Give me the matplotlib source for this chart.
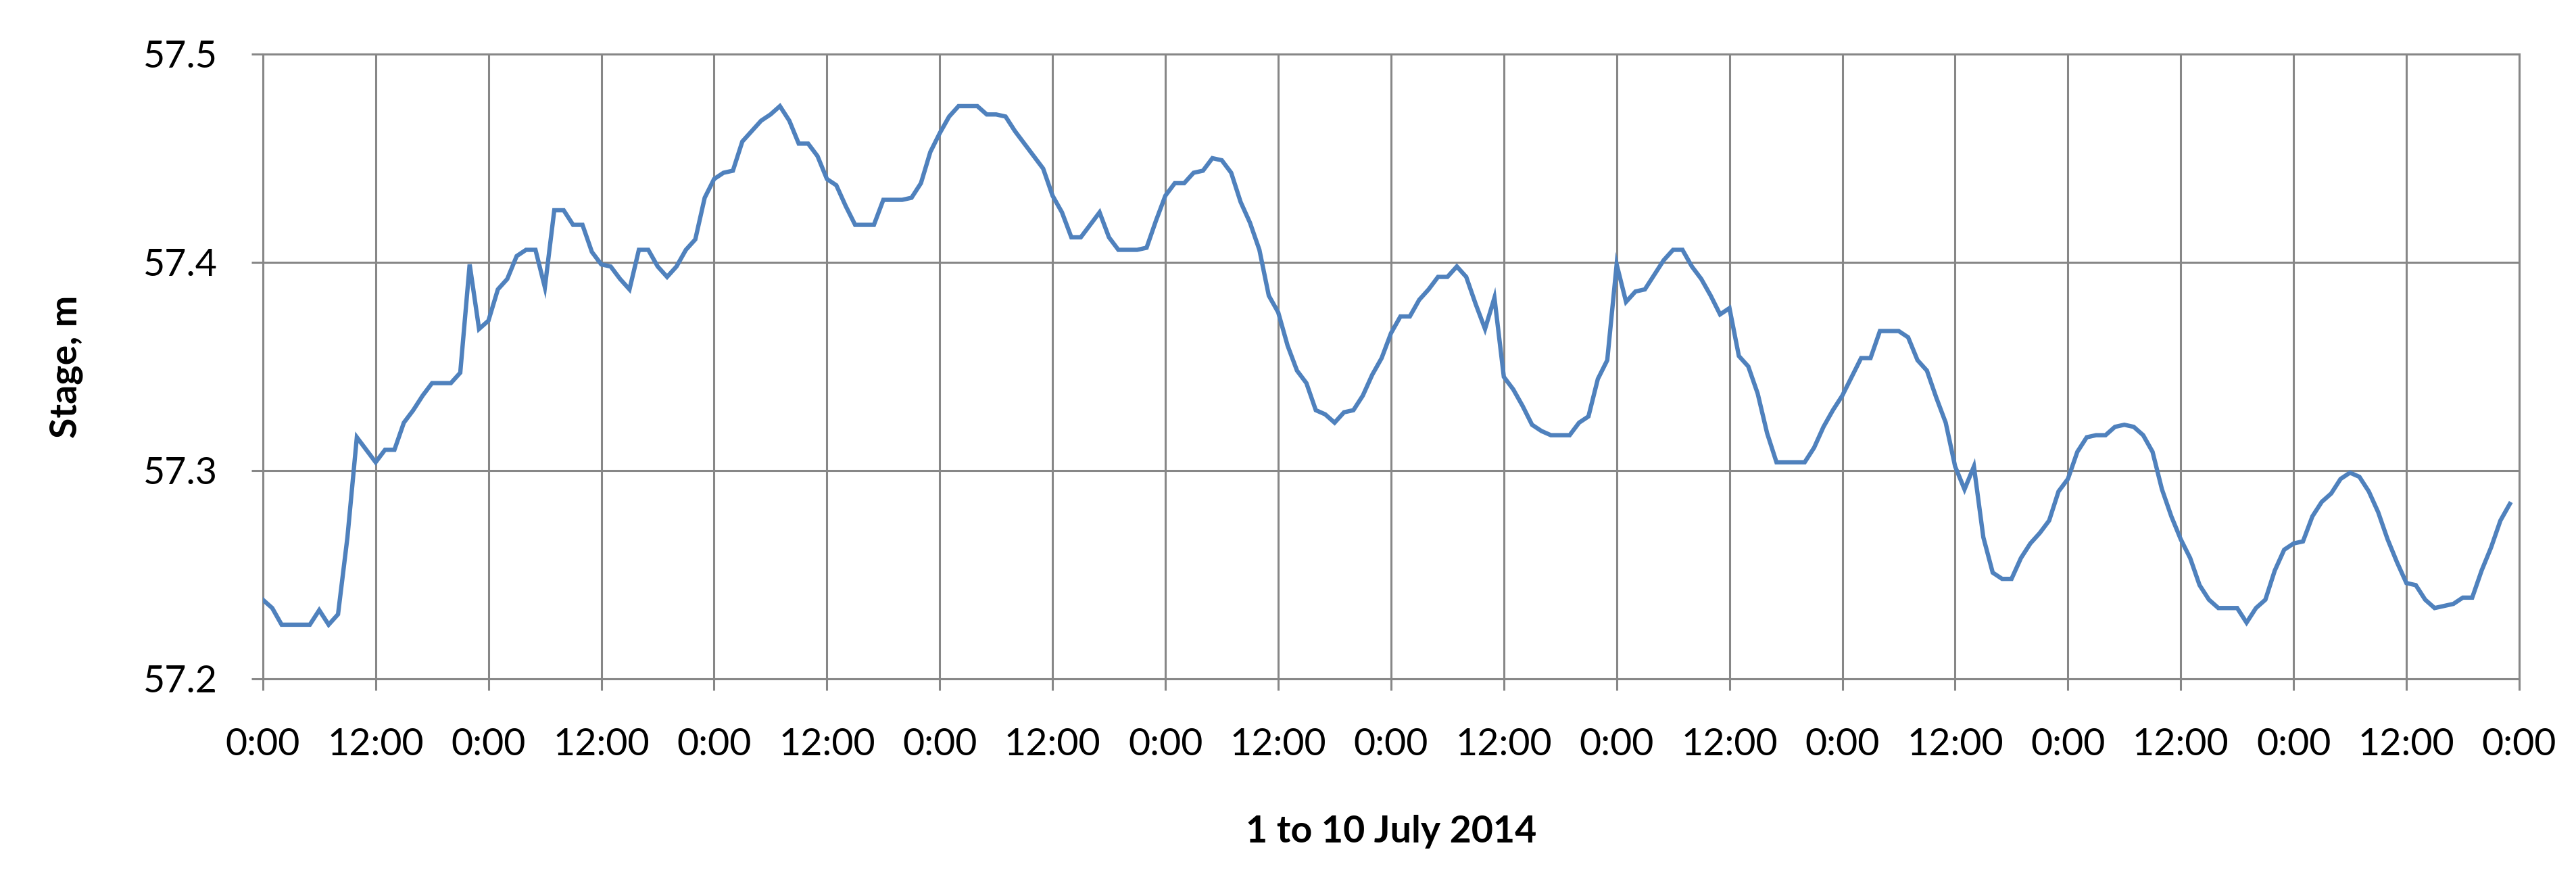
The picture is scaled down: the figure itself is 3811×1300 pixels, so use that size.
import matplotlib
matplotlib.use("Agg")
import matplotlib.pyplot as plt
import numpy as np

# ---- data: hourly stage readings, 1 to 10 July 2014 ----
day1 = [57.238, 57.234, 57.226, 57.226, 57.226, 57.226, 57.233, 57.226, 57.231, 57.268, 57.316, 57.310,
        57.304, 57.310, 57.310, 57.323, 57.329, 57.336, 57.342, 57.342, 57.342, 57.347, 57.399, 57.368]
day2 = [57.372, 57.387, 57.392, 57.403, 57.406, 57.406, 57.388, 57.425, 57.425, 57.418, 57.418, 57.405,
        57.399, 57.398, 57.392, 57.387, 57.406, 57.406, 57.398, 57.393, 57.398, 57.406, 57.411, 57.431]
day3 = [57.440, 57.443, 57.444, 57.458, 57.463, 57.468, 57.471, 57.475, 57.468, 57.457, 57.457, 57.451,
        57.440, 57.437, 57.427, 57.418, 57.418, 57.418, 57.430, 57.430, 57.430, 57.431, 57.438, 57.453]
day4 = [57.462, 57.470, 57.475, 57.475, 57.475, 57.471, 57.471, 57.470, 57.463, 57.457, 57.451, 57.445,
        57.432, 57.424, 57.412, 57.412, 57.418, 57.424, 57.412, 57.406, 57.406, 57.406, 57.407, 57.420]
day5 = [57.432, 57.438, 57.438, 57.443, 57.444, 57.450, 57.449, 57.443, 57.429, 57.419, 57.406, 57.384,
        57.376, 57.360, 57.348, 57.342, 57.329, 57.327, 57.323, 57.328, 57.329, 57.336, 57.346, 57.354]
day6 = [57.366, 57.374, 57.374, 57.382, 57.387, 57.393, 57.393, 57.398, 57.393, 57.380, 57.368, 57.383,
        57.345, 57.339, 57.331, 57.322, 57.319, 57.317, 57.317, 57.317, 57.323, 57.326, 57.344, 57.353]
day7 = [57.399, 57.381, 57.386, 57.387, 57.394, 57.401, 57.406, 57.406, 57.398, 57.392, 57.384, 57.375,
        57.378, 57.355, 57.350, 57.337, 57.318, 57.304, 57.304, 57.304, 57.304, 57.311, 57.321, 57.329]
day8 = [57.336, 57.345, 57.354, 57.354, 57.367, 57.367, 57.367, 57.364, 57.353, 57.348, 57.335, 57.323,
        57.302, 57.291, 57.302, 57.268, 57.251, 57.248, 57.248, 57.258, 57.265, 57.270, 57.276, 57.290]
day9 = [57.296, 57.309, 57.316, 57.317, 57.317, 57.321, 57.322, 57.321, 57.317, 57.309, 57.291, 57.278,
        57.267, 57.258, 57.245, 57.238, 57.234, 57.234, 57.234, 57.227, 57.234, 57.238, 57.252, 57.262]
day10 = [57.265, 57.266, 57.278, 57.285, 57.289, 57.296, 57.299, 57.297, 57.290, 57.280, 57.267, 57.256,
         57.246, 57.245, 57.238, 57.234, 57.235, 57.236, 57.239, 57.239, 57.252, 57.263, 57.276, 57.284]

stage = day1 + day2 + day3 + day4 + day5 + day6 + day7 + day8 + day9 + day10
hours = list(range(len(stage)))

x_tick_hours = list(range(0, 241, 12))
x_tick_labels = ["0:00" if h % 24 == 0 else "12:00" for h in x_tick_hours]
y_ticks = [57.2, 57.3, 57.4, 57.5]
y_tick_labels = ["57.2", "57.3", "57.4", "57.5"]

x_label = "1 to 10 July 2014"
y_label = "Stage, m"

# ---- figure ----
plt.rcParams['font.family'] = ['Lato', 'DejaVu Sans']
fig = plt.figure(figsize=(38.12, 13.0), dpi=100)
ax = fig.add_axes([0.102, 0.2277, 0.8757, 0.7108])

grid_c = "#878787"
ax.plot(hours, stage, color="#4F81BD", lw=4.6, solid_joinstyle="miter", zorder=3)

ax.set_xlim(0, 240)
ax.set_ylim(57.2, 57.5)
ax.set_xticks(x_tick_hours)
ax.set_xticklabels(x_tick_labels)
ax.set_yticks(y_ticks)
ax.set_yticklabels(y_tick_labels)

ax.grid(True, color=grid_c, lw=2.2, zorder=0)
for s in ax.spines.values():
    s.set_color(grid_c)
    s.set_linewidth(2.2)
ax.tick_params(axis="both", direction="out", length=12, width=2.2, color=grid_c,
               labelsize=40, labelcolor="black")
ax.tick_params(axis="x", pad=40)
ax.tick_params(axis="y", pad=36)

ax.set_xlabel(x_label, fontsize=40, fontweight="bold", labelpad=56)
ax.set_ylabel(y_label, fontsize=40, fontweight="bold", labelpad=64)

fig.savefig("out.png", dpi=100, facecolor="white")
